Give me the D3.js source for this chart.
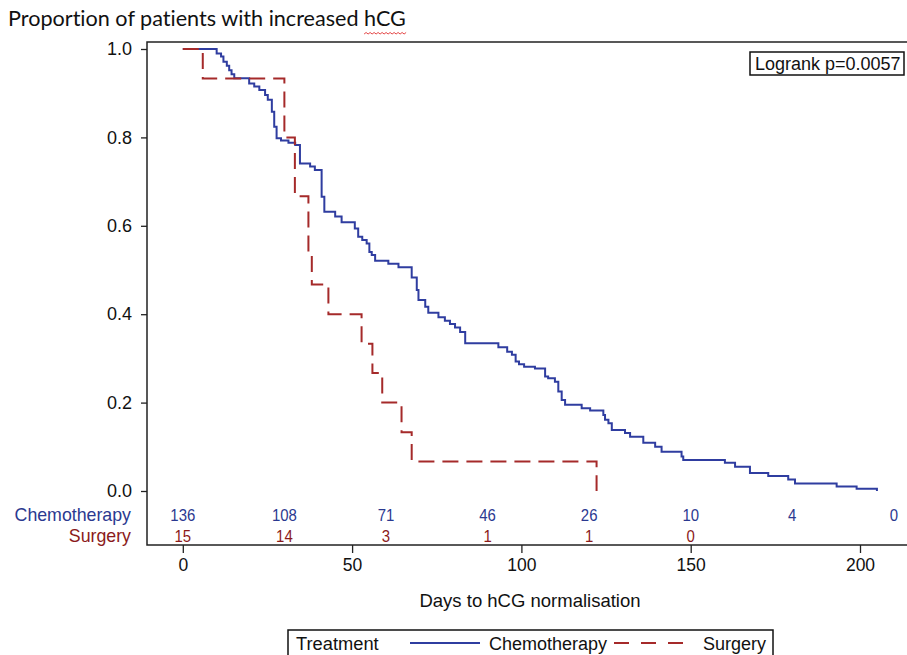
<!DOCTYPE html>
<html><head><meta charset="utf-8">
<script src="https://cdn.jsdelivr.net/npm/d3@7"></script>
<style>
html,body{margin:0;padding:0;background:#fff;overflow:hidden;}
svg{display:block;}
text{font-variant-ligatures:none;font-feature-settings:"liga" 0;}
</style></head>
<body>
<svg id="chart" width="907" height="655"></svg>
<script>
// ---------- data ----------
const chemoDays = [0,10.0,11.3,12.0,13.0,13.7,14.4,15.2,19.6,21.1,22.6,24.3,25.1,26.3,27.0,27.7,29.0,31.2,33.2,34.6,37.6,39.0,41.0,41.8,45.0,46.9,50.8,51.8,53.0,54.3,55.1,55.8,56.8,60.7,63.7,67.6,69.1,69.6,71.6,72.5,75.5,77.4,78.9,80.4,81.9,83.4,93.2,95.8,97.2,98.3,99.3,100.8,104.0,107.0,107.9,109.9,110.9,111.9,112.9,117.8,120.3,124.2,124.7,125.7,126.7,130.6,132.1,136.0,139.5,141.4,147.3,147.8,160.1,163.1,167.5,172.9,178.8,180.8,193.1,199.0,205.0];
const chemoSurv = [1,0.990,0.983,0.971,0.962,0.952,0.943,0.934,0.922,0.915,0.907,0.896,0.885,0.858,0.824,0.798,0.793,0.788,0.783,0.741,0.734,0.726,0.666,0.632,0.621,0.608,0.594,0.575,0.568,0.560,0.541,0.534,0.521,0.514,0.506,0.483,0.455,0.432,0.417,0.403,0.393,0.385,0.378,0.370,0.360,0.334,0.325,0.315,0.308,0.293,0.287,0.281,0.277,0.259,0.255,0.247,0.225,0.206,0.195,0.187,0.182,0.172,0.161,0.153,0.138,0.131,0.123,0.109,0.100,0.089,0.078,0.070,0.064,0.055,0.041,0.034,0.026,0.017,0.010,0.005,0];
const surgDays = [0,5.9,30.0,33.1,37.1,38.1,43.0,52.8,56.0,58.9,64.6,67.6,122.2];
const surgSurv = [1,0.933,0.800,0.667,0.533,0.467,0.400,0.333,0.267,0.200,0.133,0.067,0];

const riskTimes = [0,30,60,90,120,150,180,210];
const riskChemo = [136,108,71,46,26,10,4,0];
const riskSurg  = [15,14,3,1,1,0];

const xTicks = [0,50,100,150,200];
const yTicks = [0,0.2,0.4,0.6,0.8,1.0];

const groups = ["Chemotherapy","Surgery"];
const colors = {Chemotherapy:"#2f3da0", Surgery:"#a52a2a"};
const textColors = {Chemotherapy:"#2b3990", Surgery:"#8b1a1a"};

const titleText = "Proportion of patients with increased hCG";
const xLabel = "Days to hCG normalisation";
const pText = "Logrank p=0.0057";
const legendTitle = "Treatment";

// ---------- layout ----------
const svg = d3.select("#chart");
const frame = {left:147, top:42, right:925, bottom:545};
const x = d3.scaleLinear().domain([0,200]).range([182.8,860]);
const y = d3.scaleLinear().domain([0,1]).range([491,49]);
const AR = "'Liberation Sans', Arial, sans-serif";

// title
const title = svg.append("text")
  .attr("x",8).attr("y",26)
  .attr("font-family","Lato, 'Open Sans', sans-serif")
  .attr("font-size",21.6).attr("fill","#111")
  .text(titleText);
// wavy spell-check underline under "hCG"
(function(){
  const node = title.node();
  const start = titleText.indexOf("hCG");
  const sx = 8 + node.getSubStringLength(0,start);
  const w = node.getSubStringLength(start,3);
  let d = `M${sx},34`;
  for (let px = sx, i=0; px < sx + w; px += 2, i++) d += ` L${px+2},${i%2? 34:32.5}`;
  svg.append("path").attr("d",d).attr("fill","none").attr("stroke","#e03030").attr("stroke-width",0.9);
})();

// frame
svg.append("rect")
  .attr("x",frame.left).attr("y",frame.top)
  .attr("width",frame.right-frame.left).attr("height",frame.bottom-frame.top)
  .attr("fill","none").attr("stroke","#222").attr("stroke-width",1.5);

// y axis
const yAxis = svg.append("g").attr("transform",`translate(${frame.left},0)`)
  .call(d3.axisLeft(y).tickValues(yTicks).tickFormat(d3.format(".1f")).tickSize(6).tickPadding(9));
yAxis.select(".domain").remove();
yAxis.selectAll("line").attr("stroke","#222").attr("stroke-width",1.3);
yAxis.selectAll("text").attr("font-family",AR).attr("font-size",18).attr("fill","#111");

// x axis
const xAxis = svg.append("g").attr("transform",`translate(0,${frame.bottom})`)
  .call(d3.axisBottom(x).tickValues(xTicks).tickFormat(d3.format("d")).tickSize(8).tickPadding(6));
xAxis.select(".domain").remove();
xAxis.selectAll("line").attr("stroke","#222").attr("stroke-width",1.3);
xAxis.selectAll("text").attr("font-family",AR).attr("font-size",17.5).attr("fill","#111");

svg.append("text").attr("x",530).attr("y",607).attr("text-anchor","middle")
  .attr("font-family",AR).attr("font-size",18.5).attr("fill","#111").text(xLabel);

// curves
const line = d3.line().x(d=>x(d[0])).y(d=>y(d[1])).curve(d3.curveStepAfter);
const chemo = chemoDays.map((d,i)=>[d,chemoSurv[i]]);
const surg = surgDays.map((d,i)=>[d,surgSurv[i]]);
svg.append("path").datum(chemo).attr("d",line)
  .attr("fill","none").attr("stroke",colors.Chemotherapy).attr("stroke-width",2);
svg.append("path").datum(surg).attr("d",line)
  .attr("fill","none").attr("stroke",colors.Surgery).attr("stroke-width",2)
  .attr("stroke-dasharray","16,8");

// logrank inset
svg.append("rect").attr("x",750).attr("y",52).attr("width",154).attr("height",23)
  .attr("fill","#fff").attr("stroke","#111").attr("stroke-width",1.5);
svg.append("text").attr("x",755).attr("y",70).attr("font-family",AR).attr("font-size",18)
  .attr("fill","#111").text(pText);

// at-risk table (condensed lettering)
const riskRows = [{g:"Chemotherapy", vals:riskChemo, yy:521},{g:"Surgery", vals:riskSurg, yy:542}];
riskRows.forEach(r=>{
  svg.append("g").attr("transform",`translate(131,${r.yy}) scale(0.96,1)`)
    .append("text").attr("text-anchor","end")
    .attr("font-family",AR).attr("font-size",18.5).attr("fill",textColors[r.g]).text(r.g);
  svg.append("g").selectAll("g").data(r.vals).join("g")
    .attr("transform",(d,i)=>`translate(${x(riskTimes[i])},${r.yy}) scale(0.88,1)`)
    .append("text").attr("text-anchor","middle")
    .attr("font-family",AR).attr("font-size",17).attr("fill",textColors[r.g]).text(d=>d);
});

// legend
const lg = svg.append("g");
lg.append("rect").attr("x",288).attr("y",630).attr("width",485).attr("height",40)
  .attr("fill","#fff").attr("stroke","#111").attr("stroke-width",1.5);
lg.append("text").attr("x",296).attr("y",650).attr("font-family",AR).attr("font-size",18.3)
  .attr("fill","#111").text(legendTitle);
lg.append("line").attr("x1",410).attr("x2",480).attr("y1",643).attr("y2",643)
  .attr("stroke",colors.Chemotherapy).attr("stroke-width",2);
lg.append("text").attr("x",489).attr("y",650).attr("font-family",AR).attr("font-size",18)
  .attr("fill","#111").text(groups[0]);
lg.append("line").attr("x1",614).attr("x2",683).attr("y1",643).attr("y2",643)
  .attr("stroke",colors.Surgery).attr("stroke-width",2).attr("stroke-dasharray","15,12");
lg.append("text").attr("x",703).attr("y",650).attr("font-family",AR).attr("font-size",18)
  .attr("fill","#111").text(groups[1]);
</script>
</body></html>
